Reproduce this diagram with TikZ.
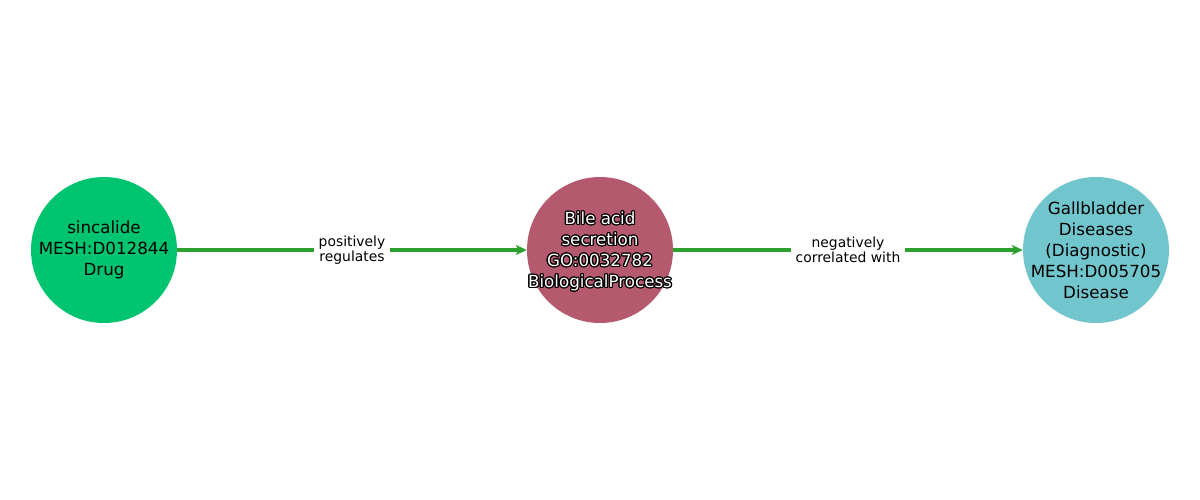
\documentclass[tikz,border=0pt]{standalone}
\usepackage{fontspec}
\setmainfont{DejaVu Sans}
\usepackage{contour}
\contourlength{1.2pt}
\contournumber{16}
\usetikzlibrary{arrows.meta}
\definecolor{cgreen}{HTML}{00C46F}
\definecolor{cmauve}{HTML}{B5596F}
\definecolor{cteal}{HTML}{70C6CC}
\definecolor{edgegreen}{HTML}{2CA02C}
\tikzset{
  ent/.style={circle, minimum size=146pt, inner sep=0pt},
  enttext/.style={inner sep=0pt, align=center,
    font=\fontsize{16.7pt}{21pt}\selectfont, text=black},
  rel/.style={draw=edgegreen, line width=3.2pt,
    -{Stealth[length=11pt, width=10pt, inset=3pt]}},
  lab/.style={fill=white, inner sep=5pt, align=center,
    font=\fontsize{13.9pt}{15.5pt}\selectfont, text=black}
}
\begin{document}
\begin{tikzpicture}[x=1pt,y=-1pt]
\useasboundingbox (0,0) rectangle (1200,500);
\node[ent, fill=cgreen] (a) at (104,250) {};
\node[ent, fill=cmauve] (b) at (600,250) {};
\node[ent, fill=cteal] (c) at (1096,250) {};
\node[enttext] (at) at (a.center) {sincalide\\MESH:D012844\\Drug};
\node[enttext, text=white] (bt) at ([yshift=-2pt]b.center) {\contour{black}{Bile acid}\\\contour{black}{secretion}\\\contour{black}{GO:0032782}\\\contour{black}{BiologicalProcess}};
\node[enttext] (ct) at (c.center) {Gallbladder\\Diseases\\(Diagnostic)\\MESH:D005705\\Disease};
\draw[rel] (a) -- node[lab] {positively\\regulates} (b);
\draw[rel] (b) -- node[lab] {negatively\\correlated with} (c);
\end{tikzpicture}
\end{document}
